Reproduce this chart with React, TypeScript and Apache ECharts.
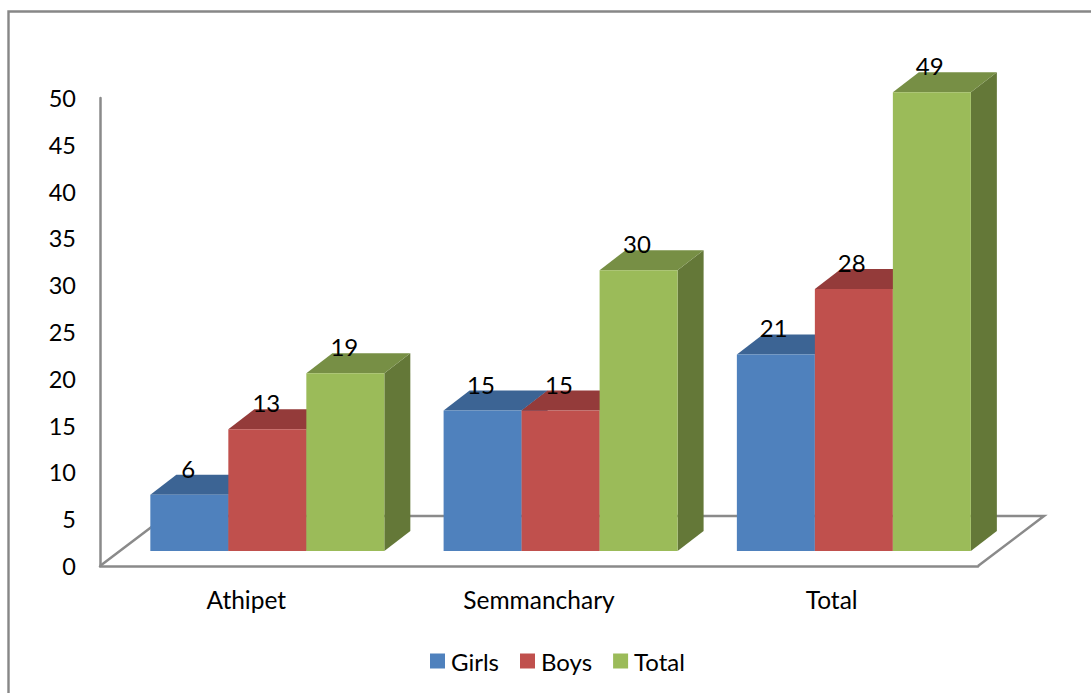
import React, { useEffect, useRef } from "react";
import * as echarts from "echarts";

const categories = ["Athipet", "Semmanchary", "Total"];
const girls = [6, 15, 21];
const boys = [13, 15, 28];
const totals = [19, 30, 49];
const seriesNames = ["Girls", "Boys", "Total"];
const seriesValues = [girls, boys, totals];
const frontColors = ["#4f81bd", "#c0504d", "#9bbb59"];
const topColors = ["#3c6494", "#943b3a", "#778f45"];
const sideColors = ["#335580", "#7f3230", "#647838"];

const FONT = "Lato, Carlito, sans-serif";
const LINE = "#8a8a8a";
const BAR_W = 78;
const DEPTH_X = 26;
const DEPTH_Y = 20;
const FRONT_DY = 15;
const GROUP_DX = 21;
const BAND_STRETCH = 0.6;

export default function App() {
  const ref = useRef<HTMLDivElement>(null);
  useEffect(() => {
    const chart = echarts.init(ref.current!, undefined, { renderer: "svg" });
    const floor = {
      type: "custom",
      silent: true,
      z: 1,
      data: [[0, 0]],
      renderItem: (params: any) => {
        const c = params.coordSys;
        const y0 = c.y + c.height;
        const x0 = c.x;
        const x1 = c.x + c.width;
        return {
          type: "polyline",
          shape: {
            points: [
              [x0, y0],
              [x0 + 66, y0 - 50],
              [x1 + 66, y0 - 50],
              [x1, y0],
            ],
          },
          style: { stroke: LINE, lineWidth: 2.5, fill: "none" },
        };
      },
    };
    const bars = seriesNames.map((name, si) => ({
      type: "custom",
      name,
      z: 2 + si,
      itemStyle: { color: frontColors[si] },
      encode: { x: 0, y: 1 },
      data: seriesValues[si].map((v, i) => [i, v]),
      renderItem: (_: any, api: any) => {
        const cat = api.value(0);
        const val = api.value(1);
        const top = api.coord([cat, val]);
        const base = api.coord([cat, 0]);
        const xl = top[0] + GROUP_DX + cat * BAND_STRETCH + (si - 1.5) * BAR_W;
        const xr = xl + BAR_W;
        const yt = top[1] - FRONT_DY;
        const yb = base[1] - FRONT_DY;
        return {
          type: "group",
          children: [
            {
              type: "polygon",
              shape: { points: [[xr, yt], [xr + DEPTH_X, yt - DEPTH_Y], [xr + DEPTH_X, yb - DEPTH_Y], [xr, yb]] },
              style: { fill: sideColors[si] },
            },
            {
              type: "polygon",
              shape: { points: [[xl, yt], [xl + DEPTH_X, yt - DEPTH_Y], [xr + DEPTH_X, yt - DEPTH_Y], [xr, yt]] },
              style: { fill: topColors[si] },
            },
            {
              type: "rect",
              shape: { x: xl, y: yt, width: BAR_W, height: yb - yt },
              style: { fill: frontColors[si] },
            },
            {
              type: "text",
              z2: 100,
              style: {
                x: (xl + xr) / 2 - 1 - cat * BAND_STRETCH,
                y: yt - 26.5,
                text: String(val),
                fill: "#000",
                font: `24px ${FONT}`,
                align: "center",
                verticalAlign: "middle",
              },
            },
          ],
        };
      },
    }));
    chart.setOption({
      animation: false,
      backgroundColor: "#fff",
      textStyle: { fontFamily: FONT },
      graphic: [
        {
          type: "polyline",
          shape: { points: [[8.5, 693], [8.5, 11.5], [1091, 11.5]] },
          style: { stroke: "#878787", lineWidth: 2.4, fill: "none" },
        },
      ],
      grid: { left: 100, right: 113, top: 98, bottom: 127 },
      xAxis: {
        type: "category",
        data: categories,
        axisTick: { show: false },
        axisLine: { lineStyle: { color: LINE, width: 2.5 } },
        axisLabel: { color: "#000", fontSize: 24.5, fontFamily: FONT, margin: 21 },
      },
      yAxis: {
        type: "value",
        min: 0,
        max: 50,
        interval: 5,
        splitLine: { show: false },
        axisTick: { show: false },
        axisLine: { show: true, lineStyle: { color: LINE, width: 2.5 } },
        axisLabel: { color: "#000", fontSize: 23.5, fontFamily: FONT, margin: 24, padding: [2, 0, 0, 0] },
      },
      legend: {
        data: seriesNames,
        left: 425,
        top: 644,
        itemWidth: 15,
        itemHeight: 15,
        itemGap: 21,
        icon: "rect",
        textStyle: { color: "#000", fontSize: 24, fontFamily: FONT, padding: [0, 0, 0, 1] },
      },
      series: [floor, ...bars],
    });
    return () => chart.dispose();
  }, []);
  return <div ref={ref} style={{ position: "absolute", left: 0, top: 0, width: 1091, height: 693 }} />;
}
